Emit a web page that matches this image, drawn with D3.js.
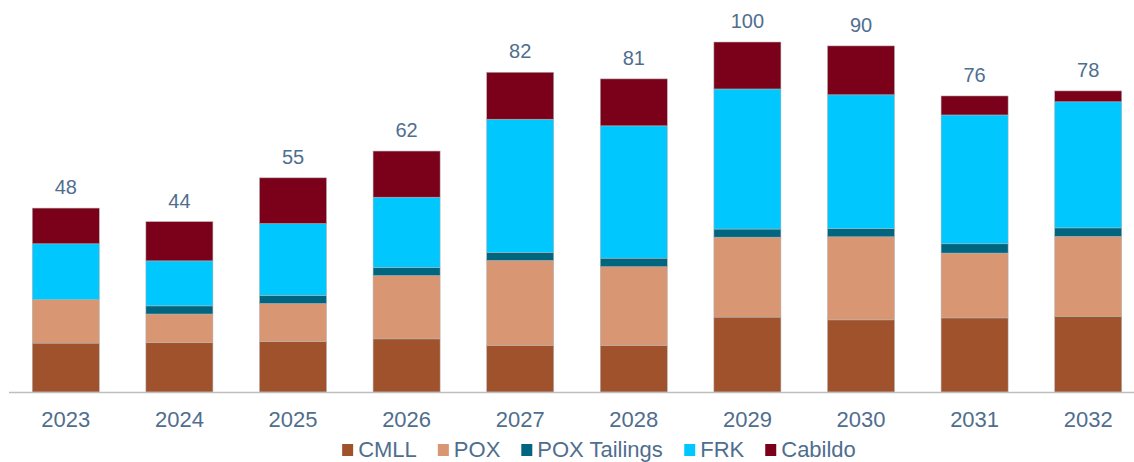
<!DOCTYPE html>
<html>
<head>
<meta charset="utf-8">
<script src="https://cdn.jsdelivr.net/npm/d3@7"></script>
<style>
  html, body { margin: 0; padding: 0; background: #ffffff; }
  svg { display: block; }
</style>
</head>
<body>
<svg id="chart" width="1134" height="462"></svg>
<script>
const years = ["2023","2024","2025","2026","2027","2028","2029","2030","2031","2032"];
const seriesNames = ["CMLL","POX","POX Tailings","FRK","Cabildo"];
const cmll        = [12.6, 12.7, 13.0, 13.7, 12.0, 12.0, 19.3, 18.6, 19.1, 19.5];
const pox         = [11.2,  7.4,  9.8, 16.3, 21.9, 20.3, 20.6, 21.4, 16.7, 20.6];
const poxTailings = [ 0.0,  2.1,  2.1,  2.1,  2.1,  2.2,  2.1,  2.1,  2.4,  2.2];
const frk         = [14.4, 11.6, 18.5, 18.1, 34.3, 34.1, 36.1, 34.5, 33.2, 32.5];
const cabildo     = [ 9.2, 10.1, 11.8, 11.9, 12.1, 12.1, 12.1, 12.6,  4.9,  2.8];
const totalLabels = ["48","44","55","62","82","81","100","90","76","78"];
const colors = ["#A0522D", "#D89672", "#006680", "#00C8FF", "#7B001A"];

const seriesValues = [cmll, pox, poxTailings, frk, cabildo];
const rows = years.map((y, i) => {
  const r = { year: y };
  seriesNames.forEach((s, k) => r[s] = seriesValues[k][i]);
  return r;
});

const svg = d3.select("#chart");
const W = 1134, H = 462;
const baseY = 392;
const FONT = "Liberation Sans, Arial, sans-serif";
const TEXT_COLOR = "#4F6E8E";

const x = d3.scaleBand().domain(years).range([9, 1145]).paddingInner(0.41).paddingOuter(0.205);
const y = d3.scaleLinear().domain([0, 100]).range([baseY, baseY - 388]);
const color = d3.scaleOrdinal().domain(seriesNames).range(colors);

const stack = d3.stack().keys(seriesNames)(rows);

const layers = svg.append("g").selectAll("g")
  .data(stack).join("g")
  .attr("fill", d => color(d.key));

layers.selectAll("rect")
  .data(d => d)
  .join("rect")
  .attr("x", d => x(d.data.year))
  .attr("width", x.bandwidth())
  .attr("y", d => y(d[1]))
  .attr("height", d => Math.max(0, y(d[0]) - y(d[1])))
  .attr("stroke", "#b3b3b3")
  .attr("stroke-width", 0.6)
  .attr("stroke-opacity", d => (d[1] - d[0]) > 0 ? 0.9 : 0);

// total labels
const tops = rows.map(r => d3.sum(seriesNames, s => r[s]));
svg.append("g").selectAll("text")
  .data(years).join("text")
  .attr("x", d => x(d) + x.bandwidth() / 2)
  .attr("y", (d, i) => y(tops[i]) - 14)
  .attr("text-anchor", "middle")
  .attr("font-family", FONT)
  .attr("font-size", 20)
  .attr("fill", TEXT_COLOR)
  .text((d, i) => totalLabels[i]);

// x axis
const xAxis = d3.axisBottom(x).tickSize(0).tickPadding(19.5);
const gx = svg.append("g").attr("transform", `translate(0,${baseY})`).call(xAxis);
gx.select(".domain").attr("stroke", "#BFBFBF").attr("stroke-width", 1.5)
  .attr("d", `M9,0.5H${W}`);
gx.selectAll("text")
  .attr("font-family", FONT)
  .attr("font-size", 22)
  .attr("fill", TEXT_COLOR);

// legend
const legend = svg.append("g").attr("transform", "translate(0,449)");
const ctx = document.createElement("canvas").getContext("2d");
ctx.font = "22px 'Liberation Sans', Arial, sans-serif";
const sq = 11, gapSqText = 5, gapItems = 21;
const widths = seriesNames.map(s => sq + gapSqText + ctx.measureText(s).width);
const totalW = d3.sum(widths) + gapItems * (seriesNames.length - 1);
let lx = (W - totalW) / 2 + 32;
seriesNames.forEach((s, i) => {
  const g = legend.append("g").attr("transform", `translate(${lx},0)`);
  g.append("rect").attr("x", 0).attr("y", -5).attr("width", sq).attr("height", 12).attr("fill", color(s));
  g.append("text").attr("x", sq + gapSqText).attr("y", 8)
    .attr("font-family", FONT)
    .attr("font-size", 22).attr("fill", TEXT_COLOR).text(s);
  lx += widths[i] + gapItems;
});
</script>
</body>
</html>
